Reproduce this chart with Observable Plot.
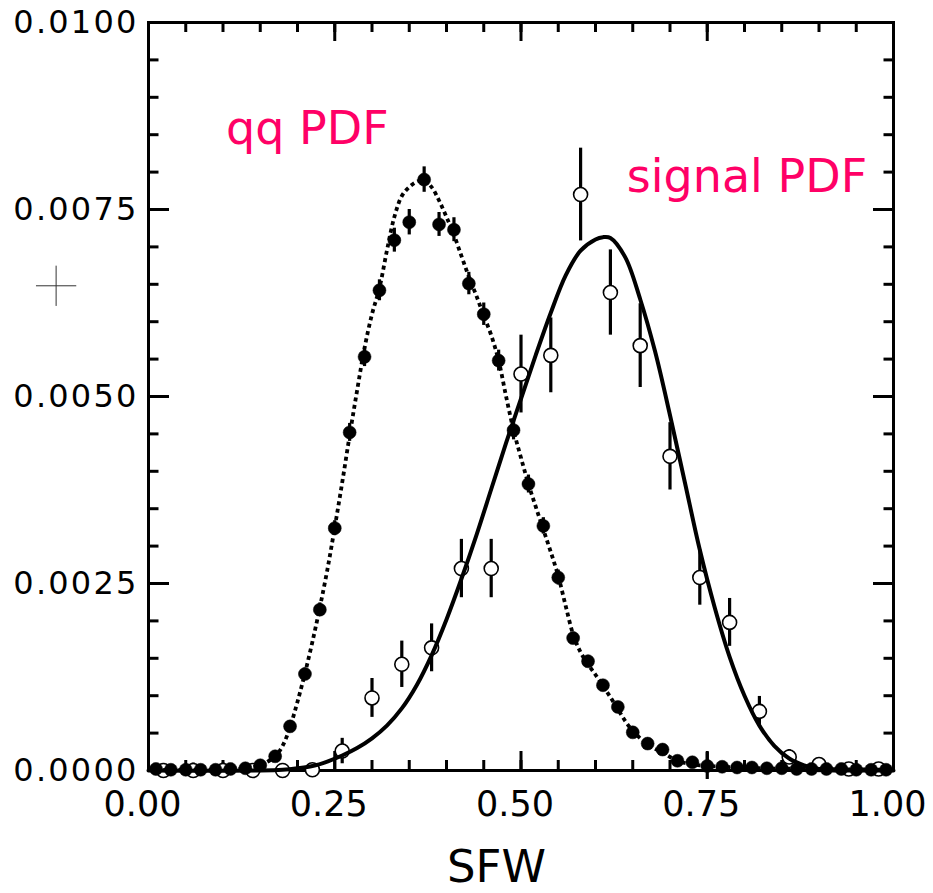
<!DOCTYPE html>
<html><head><meta charset="utf-8">
<script src="https://cdn.jsdelivr.net/npm/d3@7"></script>
<script src="https://cdn.jsdelivr.net/npm/@observablehq/plot@0.6"></script>
<style>body{margin:0;background:#fff}</style>
</head><body><div id="chart"></div>
<script>
// qq background sample (filled points)
const qqX = [0.01,0.03,0.05,0.07,0.09,0.11,0.13,0.15,0.17,0.19,0.21,0.23,0.25,0.27,0.29,0.31,0.33,0.35,0.37,0.39,0.41,0.43,0.45,0.47,0.49,0.51,0.53,0.55,0.57,0.59,0.61,0.63,0.65,0.67,0.69,0.71,0.73,0.75,0.77,0.79,0.81,0.83,0.85,0.87,0.89,0.91,0.93,0.95,0.97,0.99];
const qqY = [0.00002,0.00001,0.00001,0.00001,0.00001,0.00002,0.00003,0.00007,0.00019,0.00059,0.00129,0.00215,0.00324,0.00452,0.00553,0.00642,0.00709,0.00733,0.00790,0.00730,0.00723,0.00651,0.00610,0.00548,0.00455,0.00383,0.00327,0.00258,0.00177,0.00146,0.00114,0.00085,0.00051,0.00036,0.00028,0.00013,0.00011,0.00006,0.00005,0.00004,0.00004,0.00003,0.00003,0.00002,0.00002,0.00002,0.00002,0.00001,0.00001,0.00001];
const qqErr = [0.00002,0.00002,0.00002,0.00002,0.00002,0.00002,0.00002,0.00003,0.00004,0.00006,0.00008,0.00009,0.00010,0.00012,0.00013,0.00014,0.00016,0.00017,0.00017,0.00016,0.00016,0.00015,0.00015,0.00014,0.00013,0.00012,0.00011,0.00010,0.00008,0.00008,0.00007,0.00006,0.00005,0.00005,0.00004,0.00003,0.00003,0.00018,0.00003,0.00002,0.00002,0.00002,0.00002,0.00002,0.00002,0.00002,0.00002,0.00002,0.00002,0.00002];

// signal sample (open points)
const sigX = [0.02,0.06,0.10,0.14,0.18,0.22,0.26,0.30,0.34,0.38,0.42,0.46,0.50,0.54,0.58,0.62,0.66,0.70,0.74,0.78,0.82,0.86,0.90,0.94,0.98];
const sigY = [0,0,0,0,0,0.00001,0.00026,0.00097,0.00142,0.00164,0.00270,0.00270,0.00530,0.00555,0.00770,0.00639,0.00568,0.00420,0.00258,0.00198,0.00079,0.00018,0.00008,0.00002,0.00002];
const sigErr = [0.00006,0.00010,0.00010,0.00005,0.00005,0.00005,0.00017,0.00026,0.00031,0.00032,0.00039,0.00039,0.00052,0.00050,0.00062,0.00057,0.00056,0.00045,0.00037,0.00032,0.00020,0.00010,0.00006,0.00004,0.00004];

// qq PDF curve (dotted)
const qqCurveX = [0.00,0.10,0.13,0.15,0.17,0.18,0.19,0.20,0.21,0.22,0.23,0.24,0.25,0.26,0.27,0.28,0.29,0.30,0.31,0.32,0.33,0.34,0.35,0.36,0.37,0.38,0.39,0.40,0.41,0.42,0.43,0.44,0.45,0.46,0.47,0.48,0.49,0.50,0.51,0.52,0.53,0.54,0.55,0.56,0.57,0.58,0.59,0.60,0.61,0.62,0.63,0.64,0.65,0.66,0.67,0.68,0.69,0.70,0.71,0.72,0.74,0.77,0.82,0.90,1.00];
const qqCurveY = [0.00001,0.00001,0.00003,0.00007,0.00019,0.00033,0.00058,0.00092,0.00130,0.00172,0.00218,0.00268,0.00325,0.00385,0.00448,0.00508,0.00565,0.00610,0.00645,0.00695,0.00740,0.00768,0.00780,0.00787,0.00789,0.00780,0.00762,0.00740,0.00716,0.00688,0.00660,0.00635,0.00608,0.00582,0.00548,0.00500,0.00455,0.00418,0.00383,0.00352,0.00322,0.00292,0.00260,0.00220,0.00182,0.00158,0.00142,0.00128,0.00113,0.00098,0.00082,0.00066,0.00053,0.00043,0.00035,0.00029,0.00024,0.00018,0.00013,0.00010,0.00007,0.00005,0.00003,0.00002,0.00001];

// signal PDF curve (solid)
const sigCurveX = [0.00,0.15,0.18,0.20,0.22,0.24,0.26,0.28,0.30,0.32,0.34,0.36,0.38,0.40,0.42,0.44,0.46,0.48,0.50,0.52,0.54,0.56,0.58,0.60,0.61,0.62,0.64,0.66,0.68,0.70,0.72,0.74,0.76,0.78,0.80,0.82,0.84,0.86,0.88,0.90,0.92,0.95,1.00];
const sigCurveY = [0,0,0.00001,0.00003,0.00006,0.00012,0.00020,0.00030,0.00043,0.00060,0.00083,0.00114,0.00154,0.00202,0.00256,0.00314,0.00376,0.00438,0.00497,0.00556,0.00612,0.00662,0.00695,0.00710,0.00713,0.00712,0.00686,0.00630,0.00560,0.00475,0.00385,0.00295,0.00218,0.00152,0.00100,0.00060,0.00033,0.00016,0.00007,0.00002,0,0,0];

const xTickValues = [0, 0.25, 0.5, 0.75, 1];
const xTickLabels = ["0.00","0.25","0.50","0.75","1.00"];
const yTickValues = [0, 0.0025, 0.005, 0.0075, 0.01];
const yTickLabels = ["0.0000","0.0025","0.0050","0.0075","0.0100"];
const annotationText = ["qq PDF", "signal PDF"];
const xTitle = "SFW";

const qq = qqX.map((x, i) => ({x, y: qqY[i], e: qqErr[i]}));
const sig = sigX.map((x, i) => ({x, y: sigY[i], e: sigErr[i]}));
const qqCurve = qqCurveX.map((x, i) => ({x, y: qqCurveY[i]}));
const sigCurve = sigCurveX.map((x, i) => ({x, y: sigCurveY[i]}));

const xMinor = d3.range(0, 1.0001, 0.05);
const yMinor = d3.range(0, 0.010001, 0.0005);

const tickStyle = {text: null, label: null, strokeWidth: 3};
const pink = "#ff0066";

const chart = Plot.plot({
  width: 933, height: 893,
  marginLeft: 148, marginRight: 40, marginTop: 22, marginBottom: 123,
  x: {domain: [0, 1]},
  y: {domain: [0, 0.01]},
  style: {fontFamily: "DejaVu Sans", background: "#fff", color: "#000"},
  marks: [
    Plot.axisY(yMinor, {anchor: "left", tickSize: -10.5, ...tickStyle}),
    Plot.axisY(yTickValues, {anchor: "left", tickSize: -21, ...tickStyle}),
    Plot.axisY(yMinor, {anchor: "right", tickSize: -10.5, ...tickStyle}),
    Plot.axisY(yTickValues, {anchor: "right", tickSize: -21, ...tickStyle}),
    Plot.axisX(xMinor, {anchor: "bottom", tickSize: -10, ...tickStyle}),
    Plot.axisX(xTickValues, {anchor: "bottom", tickSize: -19, ...tickStyle}),
    Plot.axisX(xMinor, {anchor: "top", tickSize: -9, ...tickStyle}),
    Plot.axisX(xTickValues, {anchor: "top", tickSize: -18, ...tickStyle}),
    Plot.axisY(yTickValues, {anchor: "left", tickSize: 0, tickPadding: 10, label: null, fontSize: 32,
      tickFormat: d => yTickLabels[yTickValues.indexOf(d)]}),
    Plot.axisX(xTickValues, {anchor: "bottom", tickSize: 0, tickPadding: 21, label: null, fontSize: 35, dx: -6,
      tickFormat: d => xTickLabels[xTickValues.indexOf(d)]}),
    Plot.frame({stroke: "#000", strokeWidth: 3}),
    // error bars
    Plot.ruleX(sig, {x: "x", y1: d => d.y - d.e, y2: d => d.y + d.e, stroke: "#000", strokeWidth: 3.2}),
    Plot.ruleX(qq, {x: "x", y1: d => d.y - d.e, y2: d => d.y + d.e, stroke: "#000", strokeWidth: 3.2}),
    // points
    Plot.dot(sig, {x: "x", y: "y", r: 7, fill: "#fff", stroke: "#000", strokeWidth: 1.6}),
    Plot.dot(qq, {x: "x", y: "y", r: 6.5, fill: "#000", stroke: "#000", strokeWidth: 0.5}),
    // curves
    Plot.line(qqCurve, {x: "x", y: "y", curve: "catmull-rom", stroke: "#000", strokeWidth: 3.8, strokeDasharray: "4,3.5", strokeLinecap: "butt"}),
    Plot.line(sigCurve, {x: "x", y: "y", curve: "catmull-rom", stroke: "#000", strokeWidth: 4}),
    // annotations
    Plot.text([annotationText[0]], {x: () => 0.104, y: () => 0.00838, text: d => d, fill: pink, fontSize: 46, textAnchor: "start", lineAnchor: "bottom"}),
    Plot.text([annotationText[1]], {x: () => 0.642, y: () => 0.00773, text: d => d, fill: pink, fontSize: 46, textAnchor: "start", lineAnchor: "bottom"}),
    Plot.text([xTitle], {x: () => 0.467, y: () => -0.0014973, text: d => d, fill: "#000", fontSize: 45, textAnchor: "middle", lineAnchor: "bottom"}),
    // stray crosshair marker left of the frame
    Plot.dot([0], {x: () => -0.124, y: () => 0.00648, symbol: "plus", r: 13, stroke: "#333", strokeWidth: 1})
  ]
});

d3.select(chart).selectAll('g[aria-label="y-axis tick label"] text').attr("letter-spacing", "2.2px");
document.getElementById("chart").appendChild(chart);
</script>
</body></html>
